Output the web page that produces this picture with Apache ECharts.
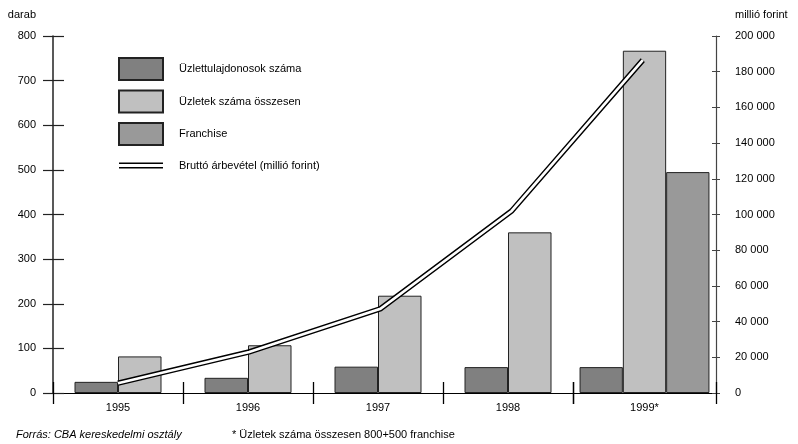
<!DOCTYPE html>
<html>
<head>
<meta charset="utf-8">
<script src="https://cdn.jsdelivr.net/npm/echarts@6/dist/echarts.min.js"></script>
<style>
  html, body { margin: 0; padding: 0; background: #fff; }
  #chart { width: 798px; height: 444px; }
</style>
</head>
<body>
<div id="chart"></div>
<script>
var years = ['1995', '1996', '1997', '1998', '1999*'];
var owners = [25, 34, 59, 58, 58];
var stores = [82, 107, 218, 360, 767];
var franchise = [null, null, null, null, 495];
var revenue = [5500, 23000, 47200, 102000, 186500];

var leftTicks = { min: 0, max: 800, interval: 100 };
var rightTicks = { min: 0, max: 200000, interval: 20000 };

var FONT = "'Liberation Sans', Arial, sans-serif";
var nameOwners = 'Üzlettulajdonosok száma';
var nameStores = 'Üzletek száma összesen';
var nameFranchise = 'Franchise';
var nameRevenue = 'Bruttó árbevétel (millió forint)';

var barBorder = { borderColor: '#222', borderWidth: 1 };

function fmtThousands(v) {
  return String(v).replace(/\B(?=(\d{3})+(?!\d))/g, ' ');
}

var chart = echarts.init(document.getElementById('chart'));

var option = {
  animation: false,
  textStyle: { fontFamily: FONT, color: '#000' },
  title: [
    { text: 'Forrás: CBA kereskedelmi osztály', left: 16, top: 429, padding: 0,
      textStyle: { fontSize: 11, fontWeight: 'normal', fontStyle: 'italic', color: '#000', fontFamily: FONT } },
    { text: '* Üzletek száma összesen 800+500 franchise', left: 232, top: 429, padding: 0,
      textStyle: { fontSize: 11, fontWeight: 'normal', color: '#000', fontFamily: FONT } }
  ],
  legend: {
    orient: 'vertical',
    left: 118, top: 57,
    padding: 0,
    icon: 'rect',
    itemWidth: 44, itemHeight: 22, itemGap: 8.5,
    textStyle: { fontSize: 11, color: '#000', fontFamily: FONT, padding: [0, 0, 0, 11] },
    data: [
      { name: nameOwners },
      { name: nameStores },
      { name: nameFranchise },
      { name: nameRevenue,
        icon: 'path://M0,0h0.01v0.01h-0.01z M0,22h0.01v0.01h-0.01z M0,8h44v1.5h-44z M0,12.5h44v1.5h-44z',
        itemStyle: { color: '#000', borderWidth: 0 } }
    ]
  },
  grid: [
    { left: 53, top: 36, width: 520, height: 357 },
    { left: 573, top: 36, width: 143, height: 357 },
    { left: 52.4, top: 36, width: 656, height: 357 }
  ],
  xAxis: [
    { gridIndex: 0, type: 'category', data: years.slice(0, 4), position: 'bottom',
      axisLine: { lineStyle: { color: '#000', width: 1.2 } },
      axisTick: { show: true, interval: 0, length: 11, lineStyle: { color: '#000', width: 1.3 } },
      axisLabel: { fontSize: 11, color: '#000', margin: 9 } },
    { gridIndex: 0, type: 'category', data: years.slice(0, 4), position: 'bottom',
      axisLine: { show: false },
      axisTick: { show: true, interval: 0, inside: true, length: 11, lineStyle: { color: '#000', width: 1.3 } },
      axisLabel: { show: false } },
    { gridIndex: 1, type: 'category', data: years.slice(4), position: 'bottom',
      axisLine: { lineStyle: { color: '#000', width: 1.2 } },
      axisTick: { show: true, interval: 0, length: 11, lineStyle: { color: '#000', width: 1.3 } },
      axisLabel: { fontSize: 11, color: '#000', margin: 9 } },
    { gridIndex: 1, type: 'category', data: years.slice(4), position: 'bottom',
      axisLine: { show: false },
      axisTick: { show: true, interval: 0, inside: true, length: 11, lineStyle: { color: '#000', width: 1.3 } },
      axisLabel: { show: false } },
    { gridIndex: 2, type: 'category', data: years, show: false }
  ],
  yAxis: [
    { gridIndex: 0, type: 'value', position: 'left',
      min: leftTicks.min, max: leftTicks.max, interval: leftTicks.interval,
      name: 'darab', nameLocation: 'end', nameGap: 16,
      nameTextStyle: { fontSize: 11, color: '#000', align: 'right', padding: [0, 17, 0, 0] },
      axisLine: { show: true, lineStyle: { color: '#222', width: 1.5 } },
      axisTick: { show: true, length: 10, lineStyle: { color: '#222', width: 1.2 } },
      axisLabel: { fontSize: 11, color: '#000', margin: 17 },
      splitLine: { show: false } },
    { gridIndex: 0, type: 'value', position: 'left',
      min: leftTicks.min, max: leftTicks.max, interval: leftTicks.interval,
      axisLine: { show: false },
      axisTick: { show: true, inside: true, length: 11, lineStyle: { color: '#222', width: 1.2 } },
      axisLabel: { show: false },
      splitLine: { show: false } },
    { gridIndex: 1, type: 'value', min: leftTicks.min, max: leftTicks.max, show: false },
    { gridIndex: 2, type: 'value', position: 'right', offset: 7.6,
      min: rightTicks.min, max: rightTicks.max, interval: rightTicks.interval,
      name: 'millió forint', nameLocation: 'end', nameGap: 16,
      nameTextStyle: { fontSize: 11, color: '#000', align: 'left', padding: [0, 0, 0, 19] },
      axisLine: { show: true, lineStyle: { color: '#444', width: 1.2 } },
      axisTick: { show: true, length: 4, lineStyle: { color: '#444', width: 1 } },
      axisLabel: { fontSize: 11, color: '#000', margin: 19, formatter: fmtThousands },
      splitLine: { show: false } },
    { gridIndex: 2, type: 'value', position: 'right', offset: 7.6,
      min: rightTicks.min, max: rightTicks.max, interval: rightTicks.interval,
      axisLine: { show: false },
      axisTick: { show: true, inside: true, length: 4, lineStyle: { color: '#444', width: 1 } },
      axisLabel: { show: false },
      splitLine: { show: false } }
  ],
  series: [
    { name: nameOwners, type: 'bar', xAxisIndex: 0, yAxisIndex: 0,
      barWidth: 43.5, barGap: '0%',
      itemStyle: Object.assign({ color: '#808080' }, barBorder),
      data: owners.slice(0, 4) },
    { name: nameStores, type: 'bar', xAxisIndex: 0, yAxisIndex: 0,
      barWidth: 43.5, barGap: '0%',
      itemStyle: Object.assign({ color: '#c0c0c0' }, barBorder),
      data: stores.slice(0, 4) },
    { name: nameOwners, type: 'bar', xAxisIndex: 2, yAxisIndex: 2,
      barWidth: 43.3, barGap: '0%',
      itemStyle: Object.assign({ color: '#808080' }, barBorder),
      data: owners.slice(4) },
    { name: nameStores, type: 'bar', xAxisIndex: 2, yAxisIndex: 2,
      barWidth: 43.3, barGap: '0%',
      itemStyle: Object.assign({ color: '#c0c0c0' }, barBorder),
      data: stores.slice(4) },
    { name: nameFranchise, type: 'bar', xAxisIndex: 2, yAxisIndex: 2,
      barWidth: 43.3, barGap: '0%',
      itemStyle: Object.assign({ color: '#999999' }, barBorder),
      data: franchise.slice(4) },
    // double line: thick black line with a thin white one on top
    { name: nameRevenue, type: 'line', xAxisIndex: 4, yAxisIndex: 3,
      symbol: 'none', silent: true, z: 5,
      itemStyle: { color: '#000', borderWidth: 0 },
      lineStyle: { color: '#000', width: 5.5, join: 'miter' },
      data: revenue },
    { name: 'revenue-inner', type: 'line', xAxisIndex: 4, yAxisIndex: 3,
      symbol: 'none', silent: true, z: 6,
      lineStyle: { color: '#fff', width: 2.6, join: 'miter' },
      data: revenue }
  ]
};

chart.setOption(option);
</script>
</body>
</html>
